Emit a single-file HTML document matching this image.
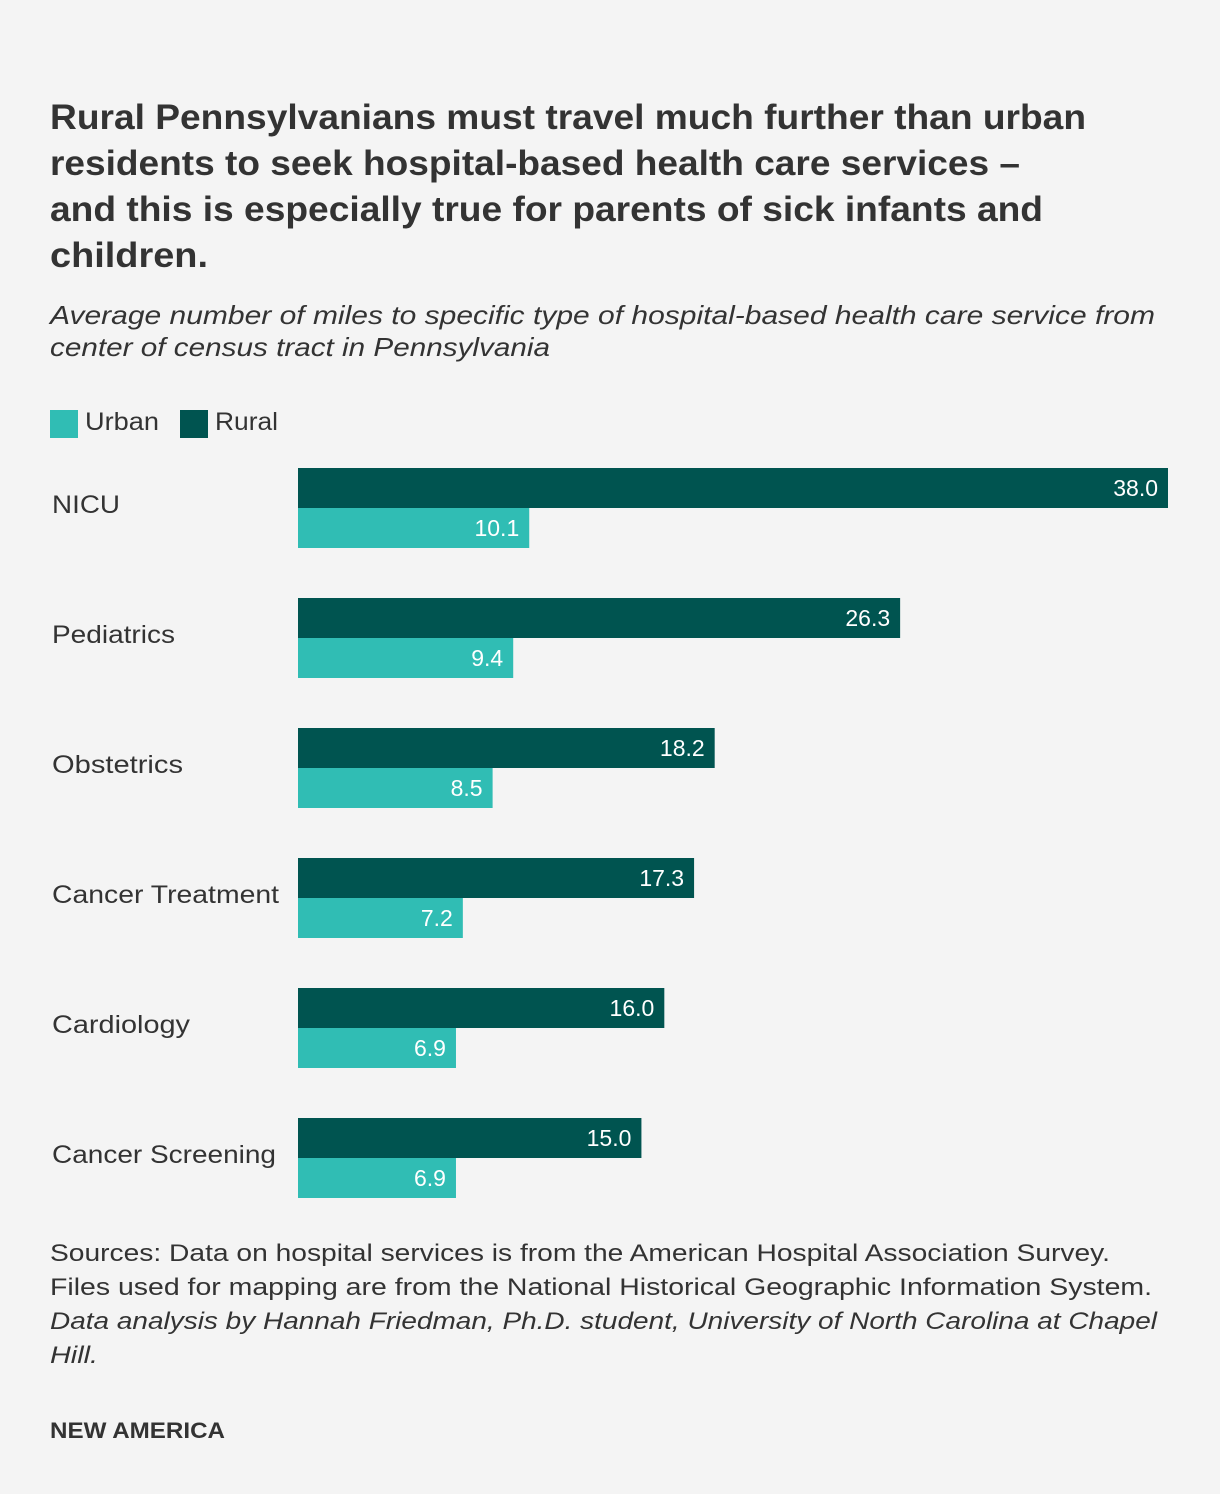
<!DOCTYPE html>
<html><head><meta charset="utf-8"><style>
html,body{margin:0;padding:0;background:#f4f4f4;}
svg{display:block;font-family:"Liberation Sans",sans-serif;}
</style></head><body>
<svg id="chart" width="1220" height="1494" viewBox="0 0 1220 1494" xmlns="http://www.w3.org/2000/svg">
<rect width="1220" height="1494" fill="#f4f4f4"/>
<g fill="#333" font-weight="bold" font-size="35">
<text x="50" y="129" textLength="1036" lengthAdjust="spacingAndGlyphs">Rural Pennsylvanians must travel much further than urban</text>
<text x="50" y="175" textLength="970" lengthAdjust="spacingAndGlyphs">residents to seek hospital-based health care services –</text>
<text x="50" y="221" textLength="993" lengthAdjust="spacingAndGlyphs">and this is especially true for parents of sick infants and</text>
<text x="50" y="267" textLength="158" lengthAdjust="spacingAndGlyphs">children.</text>
</g>
<g fill="#333" font-style="italic" font-size="26">
<text x="50" y="324" textLength="1105" lengthAdjust="spacingAndGlyphs">Average number of miles to specific type of hospital-based health care service from</text>
<text x="50" y="356" textLength="500" lengthAdjust="spacingAndGlyphs">center of census tract in Pennsylvania</text>
</g>
<g font-size="25" fill="#333">
<rect x="50" y="410" width="28" height="28" fill="#30bdb4"/>
<text x="85" y="430" textLength="74" lengthAdjust="spacingAndGlyphs">Urban</text>
<rect x="180" y="410" width="28" height="28" fill="#005450"/>
<text x="215" y="430" textLength="63" lengthAdjust="spacingAndGlyphs">Rural</text>
</g>
<g id="bars"></g>
<g fill="#333" font-size="24">
<text x="50" y="1261" textLength="1060" lengthAdjust="spacingAndGlyphs">Sources: Data on hospital services is from the American Hospital Association Survey.</text>
<text x="50" y="1295" textLength="1102" lengthAdjust="spacingAndGlyphs">Files used for mapping are from the National Historical Geographic Information System.</text>
<text x="50" y="1329" font-style="italic" textLength="1107" lengthAdjust="spacingAndGlyphs">Data analysis by Hannah Friedman, Ph.D. student, University of North Carolina at Chapel</text>
<text x="50" y="1363" font-style="italic" textLength="48" lengthAdjust="spacingAndGlyphs">Hill.</text>
</g>
<text x="50" y="1438" fill="#333" font-weight="bold" font-size="22" textLength="175" lengthAdjust="spacingAndGlyphs">NEW AMERICA</text>
</svg>
<script>
const categories = ["NICU","Pediatrics","Obstetrics","Cancer Treatment","Cardiology","Cancer Screening"];
const ruralValues = [38.0,26.3,18.2,17.3,16.0,15.0];
const urbanValues = [10.1,9.4,8.5,7.2,6.9,6.9];
const labelWidths = [68,123,131,227,138,224];

const NS = "http://www.w3.org/2000/svg";
const x0 = 298, pxPerUnit = 870/38, top0 = 468, step = 130, barH = 40;
const xScale = v => v * pxPerUnit;
const g = document.getElementById("bars");
function mk(tag, attrs){const e=document.createElementNS(NS,tag);for(const k in attrs)e.setAttribute(k,attrs[k]);return e;}
categories.forEach((c,i)=>{
  const y = top0 + i*step;
  const lab = mk("text",{x:52,y:y+45,"font-size":25,fill:"#333",textLength:labelWidths[i],lengthAdjust:"spacingAndGlyphs"});
  
  
  lab.textContent = c; g.appendChild(lab);
  [[ruralValues[i],"#005450",y,"rural"],[urbanValues[i],"#30bdb4",y+barH,"urban"]].forEach(([v,col,by,s])=>{
    const w = xScale(v);
    const r = mk("rect",{x:x0,y:by,width:w,height:barH,fill:col});
    
    
    g.appendChild(r);
    const t = mk("text",{x:x0+w-10,y:by+28,"text-anchor":"end",fill:"#fff","font-size":23});
    
    
    t.textContent = v.toFixed(1); g.appendChild(t);
  });
});
</script>
</body></html>
